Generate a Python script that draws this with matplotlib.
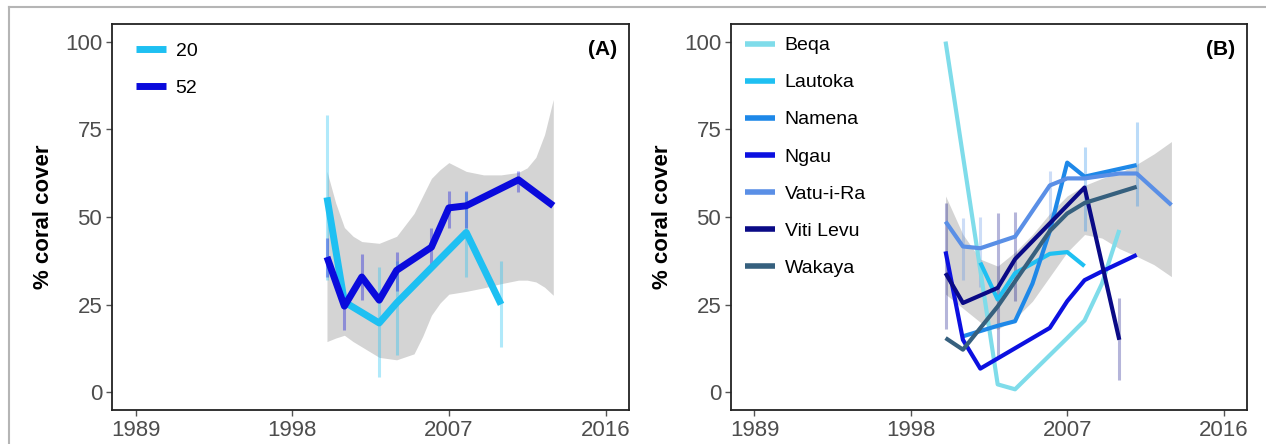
import matplotlib
matplotlib.use("Agg")
import matplotlib.pyplot as plt
from matplotlib.lines import Line2D

plt.rcParams["font.family"] = ["Liberation Sans", "DejaVu Sans"]

# ---------------- panel A : depth groups ----------------
a_names = ["20", "52"]
a_colors = ["#1ec0f2", "#0a0adc"]
a_years = [
    [2000, 2001, 2003, 2004, 2008, 2010],
    [2000, 2001, 2002, 2003, 2004, 2006, 2007, 2008, 2011, 2013],
]
a_cover = [
    [55.6, 25.8, 19.8, 25.5, 45.6, 25.1],
    [38.6, 24.6, 32.9, 26.3, 34.8, 41.4, 52.6, 53.2, 60.6, 53.2],
]
# error bars: year, low, high
a_err_years = [
    [2000, 2003, 2004, 2008, 2010],
    [2000, 2001, 2002, 2004, 2006, 2007, 2008, 2011],
]
a_err_low = [
    [32, 4.5, 10.7, 33, 13],
    [33, 17.8, 26.3, 29, 36.7, 47, 47, 57],
]
a_err_high = [
    [79, 35.7, 37.6, 57, 37.6],
    [44, 29, 39.5, 40, 47, 57.5, 57.5, 63],
]
# smoother confidence band
a_band_years = [2000, 2000.5, 2001, 2001.5, 2002, 2003, 2004, 2005, 2005.5, 2006, 2006.5,
                2007, 2008, 2009, 2010, 2011, 2011.5, 2012, 2012.5, 2013]
a_band_low = [14.5, 15.5, 16.3, 14.5, 13, 10, 9.3, 11, 16, 22, 25.5,
              28, 28.8, 29.8, 31, 32, 32, 31.5, 30, 27.7]
a_band_high = [63, 54, 47, 44.5, 43, 42.5, 44.5, 51, 56, 61, 63.5,
               65.5, 63, 62, 62, 62.7, 64, 67, 73.5, 83.5]

# ---------------- panel B : locations ----------------
b_names = ["Beqa", "Lautoka", "Namena", "Ngau", "Vatu-i-Ra", "Viti Levu", "Wakaya"]
b_colors = ["#7fdcea", "#1ec0f2", "#1e88e8", "#0c10e0", "#5a8fe6", "#0a0a86", "#36607e"]
b_years = [
    [2000, 2003, 2004, 2007, 2008, 2009, 2010],
    [2002, 2003, 2004, 2006, 2007, 2008],
    [2001, 2003, 2004, 2005, 2006, 2007, 2008, 2011],
    [2000, 2001, 2002, 2006, 2007, 2008, 2009, 2011],
    [2000, 2001, 2002, 2004, 2006, 2007, 2008, 2010, 2011, 2013],
    [2000, 2001, 2003, 2004, 2008, 2010],
    [2000, 2001, 2003, 2006, 2007, 2008, 2011],
]
b_cover = [
    [100, 2.3, 0.9, 15.5, 20.5, 31, 46.3],
    [37, 26.5, 34, 39.5, 40, 36],
    [16, 19, 20.3, 31, 46, 65.5, 61.5, 64.8],
    [40.2, 15, 6.8, 18.4, 26, 32, 34.5, 39.2],
    [48.7, 41.6, 41.1, 44.4, 59, 61, 61, 62.4, 62.4, 53.4],
    [34, 25.5, 29.8, 38, 58.4, 15],
    [15.5, 12.2, 24.5, 46, 51, 54, 58.6],
]
b_err = {
    "Viti Levu": ([2000, 2003, 2004, 2010], [18, 10, 26, 3.5], [54, 51, 51.5, 27]),
    "Vatu-i-Ra": ([2001, 2002, 2006], [32, 30, 48], [49.6, 50, 63]),
    "Namena": ([2008, 2011], [46, 53], [70, 77]),
}
b_band_years = [2000, 2001, 2002, 2003, 2004, 2005, 2006, 2007, 2008, 2009, 2010, 2011, 2012, 2013]
b_band_low = [28, 24, 20, 18, 21, 26, 33, 40, 45, 44, 41, 38.8, 36.4, 33]
b_band_high = [56, 45, 38, 36, 40, 45, 51, 56, 59, 61, 62.5, 65, 68, 71.5]

x_ticks = [1989, 1998, 2007, 2016]
y_ticks = [0, 25, 50, 75, 100]

W, H = 1266, 444


def style_axes(ax, tag):
    ax.set_xlim(1987.65, 2017.35)
    ax.set_ylim(-5, 105)
    ax.set_xticks(x_ticks)
    ax.set_yticks(y_ticks)
    ax.tick_params(axis="both", direction="out", length=4, width=1, color="#555555",
                   labelcolor="#4d4d4d", labelsize=16, pad=3)
    for sp in ax.spines.values():
        sp.set_color("#222222")
        sp.set_linewidth(1.3)
    ax.set_ylabel("% coral cover", fontsize=16, fontweight="bold", labelpad=8)
    ax.text(0.948, 0.935, tag, transform=ax.transAxes, ha="center", va="center",
            fontsize=15, fontweight="bold")


def add_legend(ax, x0, y0):
    leg = ax.legend(loc="upper left", bbox_to_anchor=(x0, y0), frameon=False, fontsize=14,
                    borderpad=0, borderaxespad=0, handlelength=1.55, handletextpad=0.5,
                    labelspacing=1.0)
    return leg


fig = plt.figure(figsize=(W / 100, H / 100), dpi=100)
ax_a = fig.add_axes([112 / W, 1 - 410 / H, (629 - 112) / W, (410 - 24) / H])
ax_b = fig.add_axes([731 / W, 1 - 410 / H, (1247 - 731) / W, (410 - 24) / H])

## panel A
ax_a.fill_between(a_band_years, a_band_low, a_band_high, color="#d4d4d4", lw=0, zorder=1)
for i in range(len(a_names)):
    ax_a.vlines(a_err_years[i], a_err_low[i], a_err_high[i], color=a_colors[i],
                alpha=0.35, lw=2.2, zorder=2)
for i in range(len(a_names)):
    ax_a.plot(a_years[i], a_cover[i], color=a_colors[i], lw=5, label=a_names[i],
              solid_joinstyle="round", solid_capstyle="butt", zorder=3)
style_axes(ax_a, "(A)")
add_legend(ax_a, 0.046, 0.953)

## panel B
ax_b.fill_between(b_band_years, b_band_low, b_band_high, color="#d4d4d4", lw=0, zorder=1)
for name, (yrs, lo, hi) in b_err.items():
    c = b_colors[b_names.index(name)]
    ax_b.vlines(yrs, lo, hi, color=c, alpha=0.3, lw=2.2, zorder=2)
for i in range(len(b_names)):
    ax_b.plot(b_years[i], b_cover[i], color=b_colors[i], lw=3, label=b_names[i],
              solid_joinstyle="round", solid_capstyle="butt", zorder=3)
style_axes(ax_b, "(B)")
leg = add_legend(ax_b, 0.027, 0.967)
for h in leg.get_lines():
    h.set_linewidth(4)

## light frame around the figure (top and left edges)
fig.add_artist(Line2D([9 / W, 1], [1 - 7 / H, 1 - 7 / H], color="#b5b5b5", lw=1.5))
fig.add_artist(Line2D([9 / W, 9 / W], [0, 1 - 7 / H], color="#b5b5b5", lw=1.5))

fig.savefig("out.png", dpi=100)
